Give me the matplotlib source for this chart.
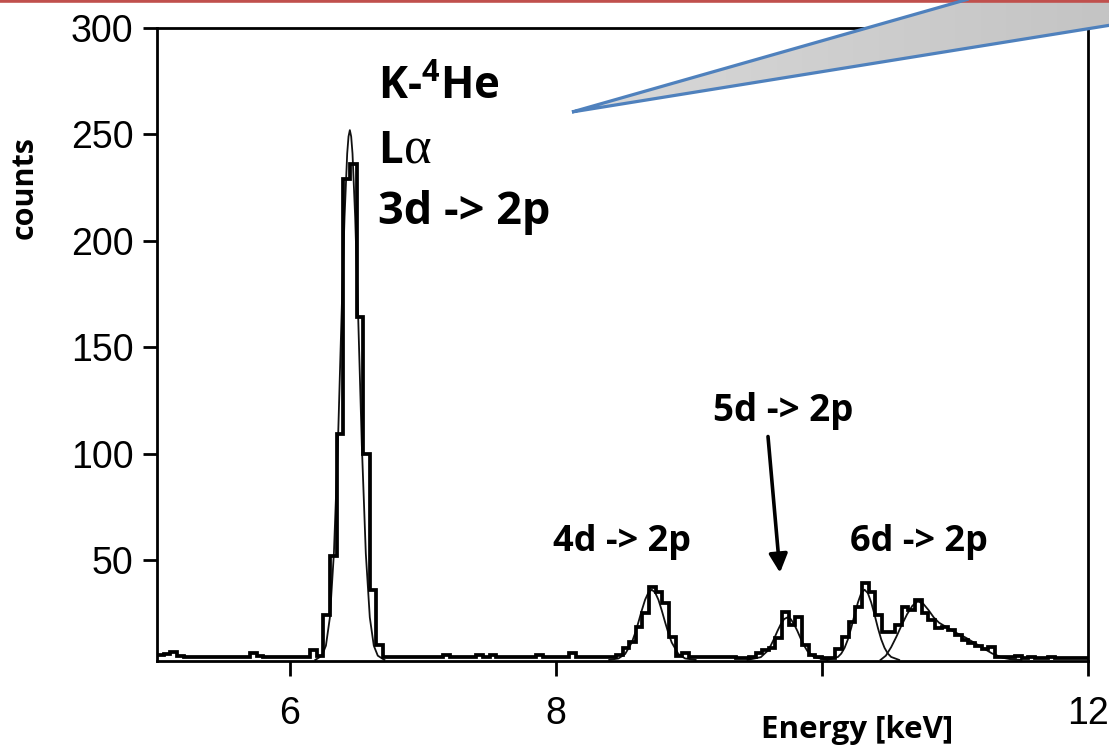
import numpy as np
import matplotlib
matplotlib.use("Agg")
import matplotlib.pyplot as plt
from matplotlib.patches import Polygon
from matplotlib.colors import LinearSegmentedColormap

# histogram: 0.05 keV bins from 5.0 to 12.0 keV
e_lo, e_hi, bw = 5.0, 12.0, 0.05
counts = [
    5.3, 6.0, 6.5, 5.0, 4.4, 4.2, 4.4, 4.2, 4.4, 4.2,        # 5.00 - 5.45
    4.4, 4.2, 4.2, 4.4, 6.1, 4.8, 4.2, 4.2, 4.2, 4.4,        # 5.50 - 5.95
    4.4, 4.2, 4.4, 7.5, 5.0, 24, 52, 109, 229, 236,          # 6.00 - 6.45
    164, 100, 36, 10, 4.4, 4.2, 4.4, 4.2, 4.6, 4.2,          # 6.50 - 6.95
    4.2, 4.2, 4.2, 5.3, 4.2, 4.2, 4.2, 4.2, 5.3, 4.6,        # 7.00 - 7.45
    5.3, 4.2, 4.2, 4.2, 4.2, 4.2, 4.2, 5.3, 4.2, 4.2,        # 7.50 - 7.95
    4.2, 4.2, 6.1, 4.2, 4.2, 4.2, 4.2, 4.2, 4.4, 5.3,        # 8.00 - 8.45
    8.5, 11.6, 18.6, 25, 37.4, 35, 29.6, 14, 5.0, 6.1,       # 8.50 - 8.95
    4.2, 4.2, 4.2, 4.2, 4.4, 4.2, 4.2, 3.9, 3.9, 4.2,        # 9.00 - 9.45
    6.3, 7.7, 8.5, 13.3, 25.7, 19.4, 23, 10, 5.3, 4.5,       # 9.50 - 9.95
    3.9, 3.9, 8, 14, 21, 28, 39, 35, 24, 16,                 # 10.00 - 10.45
    16, 19.4, 28, 26.5, 31, 25, 21.8, 18, 18.6, 17,          # 10.50 - 10.95
    14.7, 12.4, 11, 9.5, 8.1, 9.2, 4.5, 4.2, 4.2, 5.0,       # 11.00 - 11.45
    3.7, 4.2, 3.9, 3.7, 4.2, 3.9, 3.9, 3.7, 3.9, 3.7,        # 11.50 - 11.95
]

# fitted line shapes
fit_main_e = [6.19, 6.24, 6.27, 6.30, 6.33, 6.36, 6.39, 6.41, 6.43, 6.44, 6.45, 6.46, 6.47, 6.49, 6.51, 6.54, 6.57, 6.60, 6.63, 6.66, 6.71]
fit_main_y = [3, 5, 9.7, 23, 53, 104, 170, 211, 241, 249, 252, 249, 241, 211, 170, 104, 53, 23, 9.7, 5, 3]
fit_4d_e = [8.40, 8.47, 8.52, 8.57, 8.595, 8.62, 8.645, 8.67, 8.695, 8.72, 8.745, 8.77, 8.795, 8.82, 8.845, 8.87, 8.92, 8.97, 9.05]
fit_4d_y = [3, 3.7, 5.8, 11.2, 15.6, 20.8, 26.3, 31.3, 34.7, 36, 34.7, 31.3, 26.3, 20.8, 15.6, 11.2, 5.8, 3.7, 3]
fit_5d_e = [9.44, 9.54, 9.59, 9.615, 9.64, 9.665, 9.69, 9.715, 9.74, 9.765, 9.79, 9.815, 9.84, 9.865, 9.89, 9.94, 10.04]
fit_5d_y = [3, 4.3, 7.2, 9.8, 13, 16.6, 19.8, 22.2, 23, 22.2, 19.8, 16.6, 13, 9.8, 7.2, 4.3, 3]
fit_6d_e = [10.04, 10.12, 10.145, 10.17, 10.195, 10.22, 10.245, 10.27, 10.295, 10.32, 10.345, 10.37, 10.395, 10.42, 10.445, 10.47, 10.495, 10.52, 10.58]
fit_6d_y = [3, 4.4, 6, 8.7, 12.7, 18.1, 24.3, 30, 34.4, 36, 34.4, 30, 24.3, 18.1, 12.7, 8.7, 6, 4.4, 3]
fit_7d_e = [10.44, 10.48, 10.52, 10.56, 10.60, 10.64, 10.68, 10.72, 10.76, 10.80, 10.84, 10.88, 10.92, 10.96, 11.00,
            11.04, 11.08, 11.12, 11.16, 11.20, 11.24, 11.28, 11.32, 11.36, 11.42, 11.50]
fit_7d_y = [3, 5, 9, 14, 19.5, 24.5, 28.5, 30.5, 29.5, 26.5, 23, 20.5, 19, 17.5, 16,
            14.8, 13.5, 12, 10.5, 9, 7.5, 6, 5, 4, 3.3, 3]

x_ticks = [6, 8, 10, 12]
x_ticklabels = ["6", "8", "", "12"]
y_ticks = [50, 100, 150, 200, 250, 300]

W, H = 1109, 748
fig = plt.figure(figsize=(W / 100, H / 100), dpi=100)
fig.patch.set_facecolor("white")

def fx(x): return x / W
def fy(y): return 1 - y / H

ax = fig.add_axes([fx(157), fy(661), (1088 - 157) / W, (661 - 28) / H])
edges = np.linspace(e_lo, e_hi, len(counts) + 1)
ax.stairs(counts, edges, baseline=None, color="black", lw=2.7, zorder=3)
for fe, fyv in [(fit_main_e, fit_main_y), (fit_4d_e, fit_4d_y), (fit_5d_e, fit_5d_y),
                (fit_6d_e, fit_6d_y), (fit_7d_e, fit_7d_y)]:
    ax.plot(fe, fyv, color="#111111", lw=1.3, zorder=2)

ax.set_xlim(e_lo, e_hi)
ax.set_ylim(2.5, 300)
ax.set_xticks(x_ticks)
ax.set_xticklabels(x_ticklabels)
ax.set_yticks(y_ticks)
for s in ax.spines.values():
    s.set_linewidth(2.0)
ax.tick_params(axis="y", length=10, width=2, pad=7, labelsize=27, direction="out")
ax.tick_params(axis="x", length=11, width=2, pad=14, labelsize=27, direction="out")
for lb in ax.get_xticklabels() + ax.get_yticklabels():
    lb.set_family("Liberation Sans")

# arrow to the 5d line
ax.annotate("", xy=(9.684, 44), xytext=(9.594, 108),
            arrowprops=dict(arrowstyle="-|>", lw=2.6, color="black", mutation_scale=28, shrinkA=0, shrinkB=0))

plt.rcParams["mathtext.fontset"] = "custom"
plt.rcParams["mathtext.rm"] = "Open Sans:bold"
plt.rcParams["mathtext.bf"] = "Open Sans:bold"

big = dict(family="Open Sans", weight="bold", fontsize=31.5, color="black", ha="left", va="baseline")
fig.text(fx(378), fy(99), "K-$^4$He", **big)
fig.text(fx(378), fy(163), "L", **big)
fig.text(fx(404), fy(163), "α", family="Liberation Serif", fontsize=38, color="black", ha="left", va="baseline")
fig.text(fx(378), fy(224), "3d -> 2p", **dict(big, fontsize=32.5))

small = dict(family="Open Sans", weight="bold", fontsize=26, color="black", ha="left", va="baseline")
fig.text(fx(553), fy(551), "4d -> 2p", **small)
fig.text(fx(713), fy(421), "5d -> 2p", **dict(small, fontsize=26.5))
fig.text(fx(850), fy(551), "6d -> 2p", **small)

fig.text(fx(857), fy(738), "Energy [keV]", family="Open Sans", weight="bold", fontsize=22.5,
         ha="center", va="baseline")
fig.text(fx(25), fy(188), "counts", family="Open Sans", weight="bold", fontsize=22,
         rotation=90, ha="center", va="center")

# slide decoration: red rule on top and the grey callout wedge
ov = fig.add_axes([0, 0, 1, 1], zorder=5)
ov.set_axis_off()
ov.plot([0, W], [1.2, 1.2], color="#C0504D", lw=2.6, solid_capstyle="butt")
wedge = [(572, 112), (1260, -84), (1260, 1)]
grad = LinearSegmentedColormap.from_list("g", ["#D9D9D9", "#C4C4C4"])
img = ov.imshow(np.linspace(0, 1, 256)[None, :], cmap=grad, extent=(572, 1109, 112, -5),
                aspect="auto", zorder=1)
poly = Polygon(wedge, closed=True, facecolor="none", edgecolor="#4F81BD", lw=2.3, joinstyle="round", zorder=2)
ov.add_patch(poly)
img.set_clip_path(poly)
ov.set_xlim(0, W)
ov.set_ylim(H, 0)

fig.savefig("out.png", dpi=100)
